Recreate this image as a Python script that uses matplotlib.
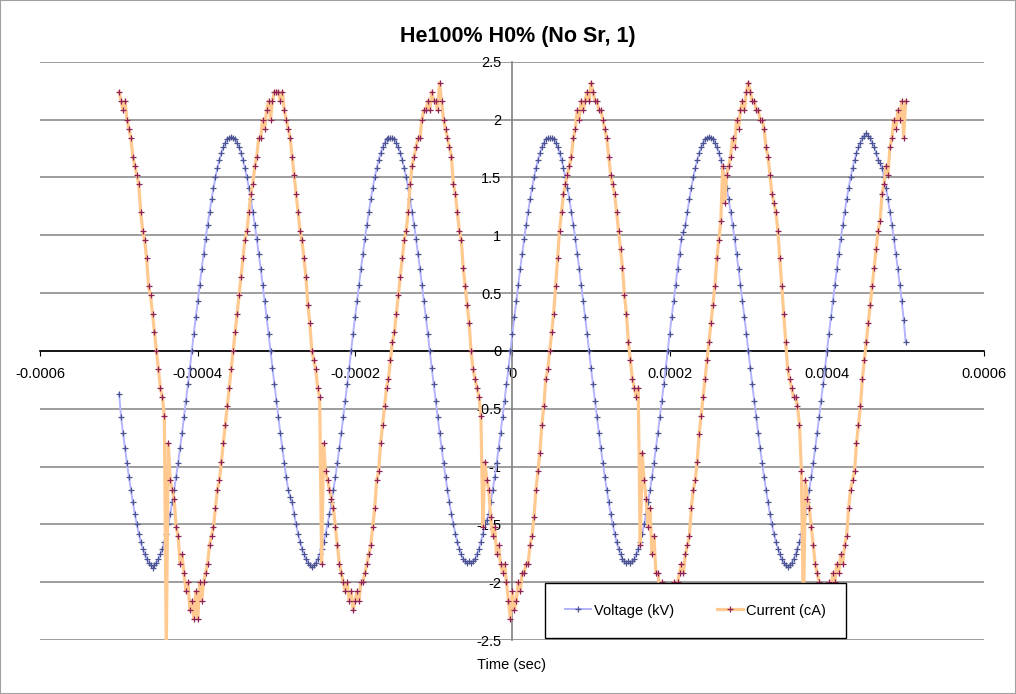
import numpy as np
import matplotlib
matplotlib.use("Agg")
import matplotlib.pyplot as plt
from matplotlib.patches import Rectangle

plt.rcParams['font.family'] = ['Liberation Sans', 'DejaVu Sans']

# values, one sample every ~2.5 us from -0.0005 s to 0.0005 s
voltage = [
    -0.37, -0.57, -0.71, -0.84, -0.97, -1.09, -1.20, -1.31, -1.41, -1.50, -1.58, -1.65, -1.71, -1.76, -1.80, -1.83, -1.85, -1.88,
    -1.85, -1.83, -1.80, -1.76, -1.71, -1.65, -1.58, -1.50, -1.41, -1.31, -1.20, -1.09, -0.97, -0.84, -0.71, -0.57, -0.43, -0.29, -0.15,
    0.00,
    0.15, 0.29, 0.43, 0.57, 0.71, 0.84, 0.97, 1.09, 1.20, 1.31, 1.41, 1.50, 1.58, 1.65, 1.71, 1.76, 1.80, 1.83, 1.84,
    1.85,
    1.84, 1.83, 1.80, 1.76, 1.71, 1.65, 1.58, 1.50, 1.41, 1.31, 1.20, 1.09, 0.97, 0.84, 0.71, 0.57, 0.43, 0.29, 0.15,
    0.00,
    -0.15, -0.29, -0.43, -0.57, -0.71, -0.84, -0.97, -1.09, -1.20,
    -1.26,
    -1.31, -1.41, -1.50, -1.58, -1.65, -1.71, -1.76, -1.80, -1.83, -1.85, -1.87,
    -1.85, -1.83, -1.80, -1.76, -1.71, -1.65, -1.58, -1.50, -1.41, -1.31, -1.20, -1.09, -0.97, -0.84, -0.71, -0.57, -0.43, -0.29, -0.15,
    0.00,
    0.15, 0.29, 0.43, 0.57, 0.71, 0.84, 0.97, 1.09, 1.20, 1.31, 1.41, 1.50, 1.58, 1.65, 1.71, 1.76, 1.80, 1.83, 1.84,
    1.84,
    1.84, 1.83, 1.80, 1.76, 1.71, 1.65, 1.58, 1.50, 1.41, 1.31, 1.20, 1.09, 0.97, 0.84, 0.71, 0.57, 0.43, 0.29, 0.15,
    0.00,
    -0.15, -0.29, -0.43, -0.57, -0.71, -0.84, -0.97, -1.09, -1.20, -1.31, -1.41, -1.50, -1.58, -1.65, -1.71, -1.76, -1.80, -1.82, -1.83,
    -1.82,
    -1.83, -1.82, -1.80, -1.76, -1.71, -1.65, -1.58, -1.50,
    -1.46,
    -1.41, -1.31, -1.20, -1.09, -0.97, -0.84, -0.71, -0.57, -0.43, -0.29, -0.15,
    0.00,
    0.15, 0.29, 0.43, 0.57, 0.71, 0.84, 0.97, 1.09, 1.20, 1.31, 1.41, 1.50, 1.58, 1.65, 1.71, 1.76, 1.80, 1.83, 1.84,
    1.84,
    1.84, 1.83, 1.80, 1.76, 1.71, 1.65, 1.58, 1.50, 1.41, 1.31, 1.20, 1.09, 0.97, 0.84, 0.71, 0.57, 0.43, 0.29, 0.15,
    0.00,
    -0.15, -0.29, -0.43, -0.57, -0.71, -0.84, -0.97, -1.09, -1.20, -1.31, -1.41, -1.50, -1.58, -1.65, -1.71, -1.76, -1.80, -1.82, -1.83,
    -1.82,
    -1.83, -1.82, -1.80, -1.76, -1.71, -1.65, -1.58, -1.50, -1.41, -1.31, -1.20, -1.09, -0.97, -0.84, -0.71, -0.57, -0.43, -0.29, -0.15,
    0.00,
    0.15, 0.29, 0.43, 0.57, 0.71, 0.84, 0.97,
    1.03,
    1.09, 1.20, 1.31, 1.41, 1.50, 1.58, 1.65, 1.71, 1.76, 1.80, 1.83, 1.84, 1.85,
    1.84, 1.83, 1.80, 1.76, 1.71, 1.65, 1.58, 1.50, 1.41, 1.31, 1.20, 1.09, 0.97, 0.84, 0.71, 0.57, 0.43, 0.29, 0.15,
    0.00,
    -0.15, -0.29, -0.43, -0.57, -0.71, -0.84, -0.97, -1.09, -1.20, -1.31, -1.41, -1.50, -1.58, -1.65, -1.71, -1.76, -1.80, -1.83, -1.85,
    -1.87,
    -1.85, -1.83, -1.80, -1.76, -1.71, -1.65, -1.58, -1.50, -1.41, -1.31, -1.20, -1.09, -0.97, -0.84, -0.71, -0.57, -0.43, -0.29, -0.15,
    0.00,
    0.15, 0.29, 0.43, 0.57, 0.71, 0.84, 0.97, 1.09, 1.20, 1.31, 1.41, 1.50, 1.58, 1.65, 1.71, 1.76, 1.80, 1.84, 1.86,
    1.88,
    1.86, 1.84, 1.80, 1.76, 1.71, 1.65,
    1.62,
    1.58, 1.50, 1.41, 1.31, 1.20, 1.09, 0.97, 0.84, 0.71, 0.57, 0.43, 0.27, 0.08,
]

current = [
    2.24, 2.16, 2.08, 2.16, 2.00, 1.92, 1.84, 1.68, 1.60, 1.52,
    1.44, 1.20, 1.04, 0.96, 0.80, 0.56, 0.48, 0.32, 0.16, 0.00,
    -0.16, -0.32, -0.40, -0.56, -2.60, -0.80, -1.12, -1.20, -1.28, -1.52,
    -1.60, -1.84, -1.76, -1.92, -2.08, -2.00, -2.24, -2.16, -2.32, -2.08,
    -2.32, -2.00, -2.16, -2.00, -1.92, -1.84, -1.68, -1.60, -1.52, -1.36,
    -1.20, -1.12, -0.96, -0.80, -0.64, -0.48, -0.32, -0.16, 0.00, 0.16,
    0.32, 0.48, 0.64, 0.80, 0.96, 1.04, 1.20, 1.36, 1.44, 1.60,
    1.68, 1.84, 1.84, 2.00, 1.92, 2.08, 2.16, 2.00, 2.16, 2.24,
    2.24, 2.24, 2.16, 2.24, 2.08, 2.00, 1.92, 1.84, 1.68, 1.52,
    1.36, 1.20, 1.04, 0.96, 0.80, 0.64, 0.40, 0.24, 0.00, -0.08,
    -0.16, -0.32, -0.40, -1.84, -0.80, -1.04, -1.12, -1.20, -1.28, -1.36,
    -1.52, -1.68, -1.84, -1.92, -2.00, -2.08, -2.00, -2.16, -2.08, -2.24,
    -2.16, -2.08, -2.16, -2.00, -2.00, -1.92, -1.84, -1.76, -1.68, -1.52,
    -1.36, -1.12, -1.04, -0.80, -0.64, -0.48, -0.32, -0.24, -0.08, 0.08,
    0.16, 0.32, 0.48, 0.64, 0.80, 0.96, 1.04, 1.20, 1.44, 1.60,
    1.68, 1.76, 1.84, 1.84, 2.00, 2.08, 2.08, 2.16, 2.08, 2.24,
    2.16, 2.16, 2.08, 2.32, 2.16, 2.00, 1.92, 1.84, 1.76, 1.68,
    1.44, 1.36, 1.20, 1.04, 0.96, 0.72, 0.56, 0.40, 0.24, 0.00,
    -0.16, -0.24, -0.32, -0.40, -0.56, -1.52, -0.96, -1.12, -1.20, -1.44,
    -1.60, -1.52, -1.76, -1.68, -1.84, -1.92, -1.84, -2.00, -2.16, -2.32,
    -2.08, -2.24, -2.16, -2.00, -2.08, -1.92, -1.92, -1.84, -1.84, -1.68,
    -1.60, -1.44, -1.20, -1.04, -0.88, -0.64, -0.48, -0.24, -0.16, 0.00,
    0.16, 0.32, 0.56, 0.80, 1.04, 1.20, 1.36, 1.44, 1.52, 1.60,
    1.68, 1.84, 1.92, 2.08, 2.00, 2.16, 2.08, 2.16, 2.24, 2.16,
    2.32, 2.24, 2.16, 2.16, 2.08, 2.08, 2.00, 1.92, 1.84, 1.68,
    1.52, 1.44, 1.36, 1.20, 1.04, 0.88, 0.72, 0.48, 0.32, 0.08,
    -0.08, -0.24, -0.32, -0.40, -0.32, -1.68, -0.88, -1.12, -1.28, -1.52,
    -1.36, -1.76, -1.60, -1.92, -1.92, -2.08, -2.00, -2.16, -2.24, -2.08,
    -2.24, -2.16, -2.00, -2.16, -2.00, -1.92, -1.84, -1.92, -1.76, -1.68,
    -1.60, -1.36, -1.20, -1.12, -0.96, -0.72, -0.56, -0.40, -0.24, -0.08,
    0.08, 0.24, 0.40, 0.56, 0.80, 0.96, 1.12, 1.60, 1.28, 1.52,
    1.60, 1.68, 1.84, 1.76, 2.00, 1.92, 2.08, 2.16, 2.08, 2.24,
    2.32, 2.24, 2.16, 2.16, 2.08, 2.08, 2.00, 2.00, 1.92, 1.76,
    1.68, 1.52, 1.36, 1.28, 1.20, 1.04, 0.80, 0.56, 0.32, 0.08,
    -0.16, -0.24, -0.32, -0.40, -0.40, -0.48, -0.64, -1.04, -2.32, -1.12,
    -1.28, -1.36, -1.52, -1.68, -1.84, -1.92, -2.00, -2.16, -2.08, -2.24,
    -2.16, -2.00, -2.08, -1.92, -2.00, -1.84, -1.92, -1.76, -1.84, -1.68,
    -1.60, -1.36, -1.20, -1.12, -1.04, -0.80, -0.64, -0.48, -0.24, -0.08,
    0.08, 0.24, 0.40, 0.56, 0.72, 0.88, 1.04, 1.12, 1.36, 1.44,
    1.60, 1.52, 1.76, 1.84, 2.00, 1.92, 2.08, 2.00, 2.16, 1.84,
    2.16,
]

t_volt = np.linspace(-0.0005, 0.0005, len(voltage))
t_curr = np.linspace(-0.0005, 0.0005, len(current))

xticks = [-0.0006, -0.0004, -0.0002, 0, 0.0002, 0.0004, 0.0006]
xlabels = ['-0.0006', '-0.0004', '-0.0002', '0', '0.0002', '0.0004', '0.0006']
yticks = [-2.5, -2, -1.5, -1, -0.5, 0, 0.5, 1, 1.5, 2, 2.5]
ylabels = ['-2.5', '-2', '-1.5', '-1', '-0.5', '0', '0.5', '1', '1.5', '2', '2.5']

fig = plt.figure(figsize=(10.16, 6.94), dpi=100)
ax = fig.add_axes([0.0398, 0.0778, 0.929, 0.8333])

ax.plot(t_volt, voltage, color='#b3b3ff', lw=1.4, marker='+', ms=4.0,
        mec='#4a5290', mew=0.9, label='Voltage (kV)', zorder=3)
ax.plot(t_curr, current, color='#ffc98f', lw=2.3, marker='+', ms=4.0,
        mec='#8c2058', mew=0.9, label='Current (cA)', zorder=4)

ax.set_xlim(-0.0006, 0.0006)
ax.set_ylim(-2.5, 2.5)
ax.set_xticks(xticks, xlabels)
ax.set_yticks(yticks, ylabels)

# excel style axes crossing at zero
ax.spines['left'].set_position(('data', 0))
ax.spines['bottom'].set_position(('data', 0))
ax.spines['left'].set_color('#808080')
ax.spines['left'].set_linewidth(1.2)
ax.spines['bottom'].set_color('black')
ax.spines['bottom'].set_linewidth(1.2)
ax.spines['top'].set_visible(False)
ax.spines['right'].set_visible(False)

ax.tick_params(axis='x', direction='out', length=3.5, pad=8, labelsize=10.5)
ax.tick_params(axis='y', length=0, pad=8, labelsize=10.5)
ax.yaxis.grid(True, color='#8c8c8c', lw=1.2)
ax.set_axisbelow(True)

leg = ax.legend(loc='center', bbox_to_anchor=(0.694, 0.051), ncol=2,
                frameon=True, fancybox=False, edgecolor='black', framealpha=1,
                borderpad=1.4, handlelength=1.8, handletextpad=0.2,
                columnspacing=2.9, fontsize=10.5)
leg.get_frame().set_linewidth(1.0)
leg.set_zorder(10)

fig.text(0.51, 0.9467, 'He100% H0% (No Sr, 1)', ha='center', va='center',
         fontsize=15.5, fontweight='bold')
fig.text(0.503, 0.0418, 'Time (sec)', ha='center', va='center', fontsize=10.5)

fig.patches.append(Rectangle((0, 0), 1, 1, transform=fig.transFigure,
                             fill=False, ec='#a0a0a0', lw=1.5))

fig.savefig('out.png', dpi=100)
